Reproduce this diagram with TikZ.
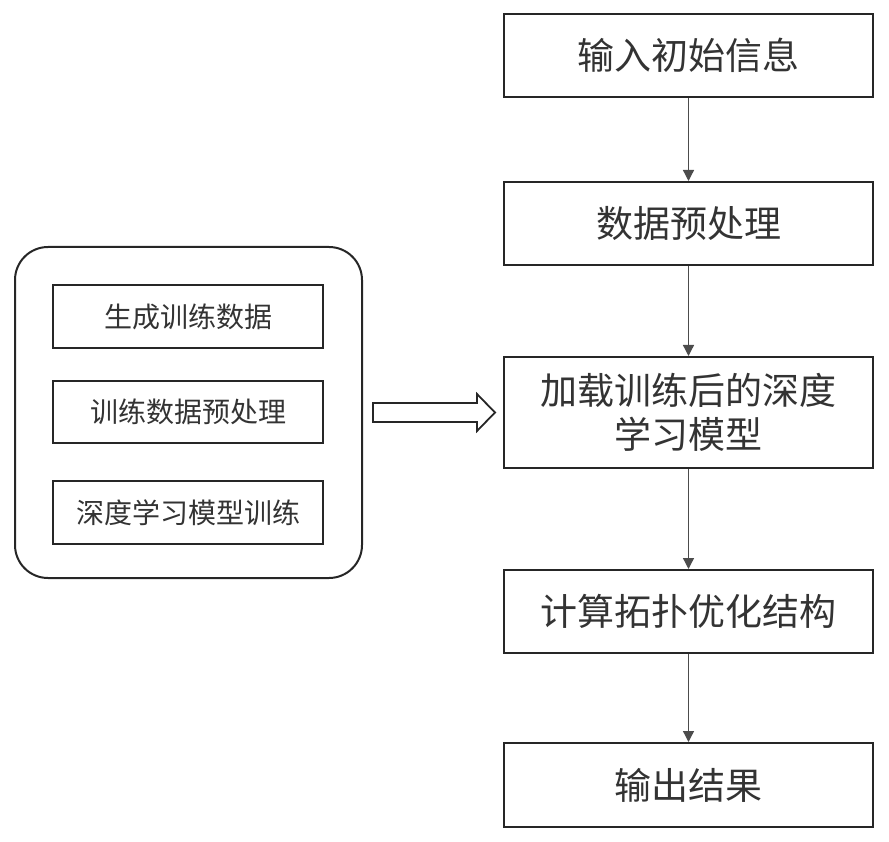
\documentclass[tikz,border=0pt]{standalone}
\usepackage{fontspec}
\setmainfont{Noto Sans CJK SC}
\usetikzlibrary{arrows.meta}
\begin{document}
\begin{tikzpicture}[x=1pt,y=-1pt,
  mainbox/.style={draw=black!85,line width=2pt,minimum width=369pt,inner sep=0pt,align=center,font=\fontsize{37}{44}\selectfont,text=black!80},
  subbox/.style={draw=black!85,line width=2pt,minimum width=270pt,inner sep=0pt,align=center,font=\fontsize{28}{34}\selectfont,text=black!80},
  flow/.style={draw=black!70,line width=1.3pt,-{Triangle[length=11pt,width=11pt]}},
  hollow/.style={draw=black!85,line width=1.8pt,line join=miter}]
\useasboundingbox (0,0) rectangle (889,842);
\node[mainbox,minimum height=83pt] (n1) at (688.5,55.5) {输入初始信息};
\node[mainbox,minimum height=83pt] (n2) at (688.5,223.5) {数据预处理};
\node[mainbox,minimum height=111pt] (n3) at (688.5,412.5) {加载训练后的深度\\学习模型};
\node[mainbox,minimum height=83pt] (n4) at (688.5,611.5) {计算拓扑优化结构};
\node[mainbox,minimum height=84pt] (n5) at (688.5,785) {输出结果};
\draw[flow] (n1) -- (n2);
\draw[flow] (n2) -- (n3);
\draw[flow] (n3) -- (n4);
\draw[flow] (n4) -- (n5);
\node[draw=black!85,line width=2pt,rounded corners=33pt,minimum width=347pt,minimum height=331pt] (grp) at (188.5,412.5) {};
\node[subbox,minimum height=63pt] (s1) at (188,316.5) {生成训练数据};
\node[subbox,minimum height=62pt] (s2) at (188,412) {训练数据预处理};
\node[subbox,minimum height=63pt] (s3) at (188,512.5) {深度学习模型训练};
\coordinate (arr) at (373,412.5);
\draw[hollow] (arr) ++(0,-9.5) -- ++(104,0) -- ++(0,-9) -- ++(18,18.5) -- ++(-18,18.5) -- ++(0,-9) -- ++(-104,0) -- cycle;
\end{tikzpicture}
\end{document}
